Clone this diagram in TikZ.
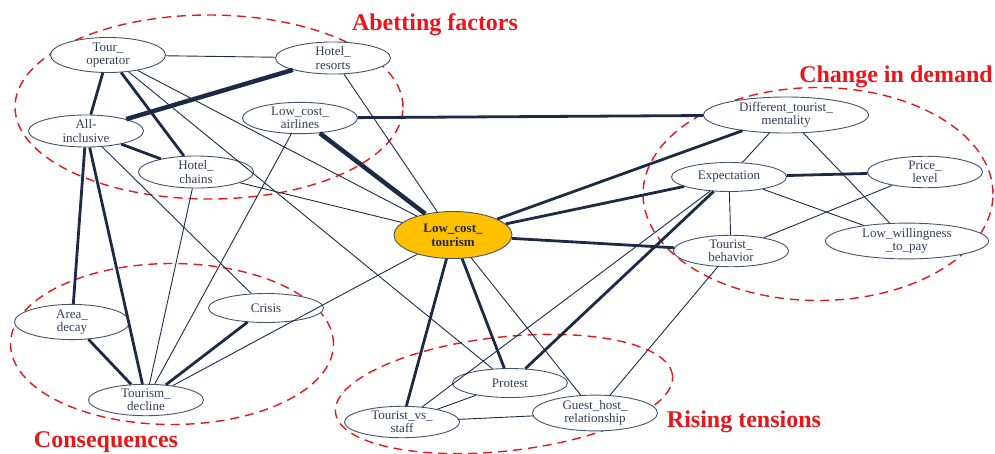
\documentclass[tikz,border=0pt]{standalone}
\usepackage{fontspec}
\setmainfont{Liberation Serif}
\usetikzlibrary{shapes.geometric}

\definecolor{nodeline}{HTML}{44546A}
\definecolor{nodetext}{HTML}{333F55}
\definecolor{edgeblue}{HTML}{1C2B45}
\definecolor{groupred}{HTML}{E8161B}
\definecolor{corefill}{HTML}{FFC000}

\tikzset{
  factor/.style={ellipse, draw=nodeline, fill=white, line width=0.9pt, inner sep=0pt,
    minimum width=115pt, minimum height=29pt, align=center, text=nodetext,
    font=\fontsize{13}{13.5}\selectfont},
  core/.style={factor, fill=corefill, text=black!85, minimum width=118pt, minimum height=47pt,
    font=\fontsize{13}{14}\selectfont\bfseries},
  group/.style={ellipse, draw=groupred, line width=1.4pt, dash pattern=on 9pt off 6pt},
  grouplabel/.style={text=groupred, font=\fontsize{24}{24}\selectfont\bfseries},
  weak/.style={draw=edgeblue, line width=0.9pt},
  strong/.style={draw=edgeblue, line width=2.8pt},
  heavy/.style={draw=edgeblue, line width=4.5pt},
}

\begin{document}
\begin{tikzpicture}[x=1pt, y=-1pt]
  \useasboundingbox (0,0) rectangle (995,453);
  % Groups
  \node (abetting) [group, minimum width=388pt, minimum height=184pt] at (209,107) {};
  \node (demand) [group, minimum width=350pt, minimum height=213pt] at (818,194) {};
  \node (conseq) [group, minimum width=323pt, minimum height=161pt] at (172,344) {};
  \node (tensions) [group, minimum width=339pt, minimum height=114pt, rotate=6.3] at (504,394) {};
  \node (abetting-label) [grouplabel] at (435,25) {Abetting factors};
  \node (demand-label) [grouplabel] at (896,77) {Change in demand};
  \node (conseq-label) [grouplabel] at (106,442) {Consequences};
  \node (tensions-label) [grouplabel] at (744,422) {Rising tensions};

  % Nodes
  \node (tour) [factor] at (108,55) {Tour\_\\operator};
  \node (resorts) [factor] at (333,58) {Hotel\_\\resorts};
  \node (airlines) [factor] at (300,118) {Low\_cost\_\\airlines};
  \node (allinc) [factor] at (86,131) {All-\\inclusive};
  \node (chains) [factor] at (196,172) {Hotel\_\\chains};
  \node (lct) [core] at (453,235) {Low\_cost\_\\tourism};
  \node (mentality) [factor, minimum width=165pt, minimum height=31pt] at (786,115) {Different\_tourist\_\\mentality};
  \node (expect) [factor] at (729,177) {Expectation};
  \node (price) [factor] at (925,172) {Price\_\\level};
  \node (willing) [factor, minimum width=163pt] at (907,241) {Low\_willingness\\\_to\_pay};
  \node (behavior) [factor] at (731,251) {Tourist\_\\behavior};
  \node (area) [factor] at (72,322) {Area\_\\decay};
  \node (crisis) [factor] at (266,308) {Crisis};
  \node (decline) [factor] at (146,400) {Tourism\_\\decline};
  \node (protest) [factor] at (510,383) {Protest};
  \node (staff) [factor] at (402,422) {Tourist\_vs\_\\staff};
  \node (guest) [factor, minimum width=125pt] at (595,413) {Guest\_host\_\\relationship};

  % Links
  \draw[weak] (tour) -- (resorts);
  \draw[weak] (tour) -- (protest);
  \draw[weak] (tour) -- (lct);
  \draw[weak] (allinc) -- (crisis);
  \draw[weak] (chains) -- (decline);
  \draw[weak] (chains) -- (lct);
  \draw[weak] (resorts) -- (lct);
  \draw[weak] (airlines) -- (decline);
  \draw[weak] (decline) -- (lct);
  \draw[weak] (mentality) -- (expect);
  \draw[weak] (mentality) -- (willing);
  \draw[weak] (expect) -- (behavior);
  \draw[weak] (expect) -- (willing);
  \draw[weak] (price) -- (behavior);
  \draw[weak] (expect) -- (staff);
  \draw[weak] (behavior) -- (guest);
  \draw[weak] (lct) -- (guest);
  \draw[weak] (staff) -- (protest);
  \draw[weak] (staff) -- (guest);

  \draw[strong] (tour) -- (allinc);
  \draw[strong] (tour) -- (chains);
  \draw[strong] (allinc) -- (chains);
  \draw[strong] (allinc) -- (area);
  \draw[strong] (allinc) -- (decline);
  \draw[strong] (area) -- (decline);
  \draw[strong] (crisis) -- (decline);
  \draw[strong] (airlines) -- (mentality);
  \draw[strong] (lct) -- (mentality);
  \draw[strong] (lct) -- (expect);
  \draw[strong] (lct) -- (behavior);
  \draw[strong] (expect) -- (price);
  \draw[strong] (expect) -- (protest);
  \draw[strong] (lct) -- (staff);
  \draw[strong] (lct) -- (protest);

  \draw[heavy] (allinc) -- (resorts);
  \draw[heavy] (airlines) -- (lct);
\end{tikzpicture}
\end{document}
